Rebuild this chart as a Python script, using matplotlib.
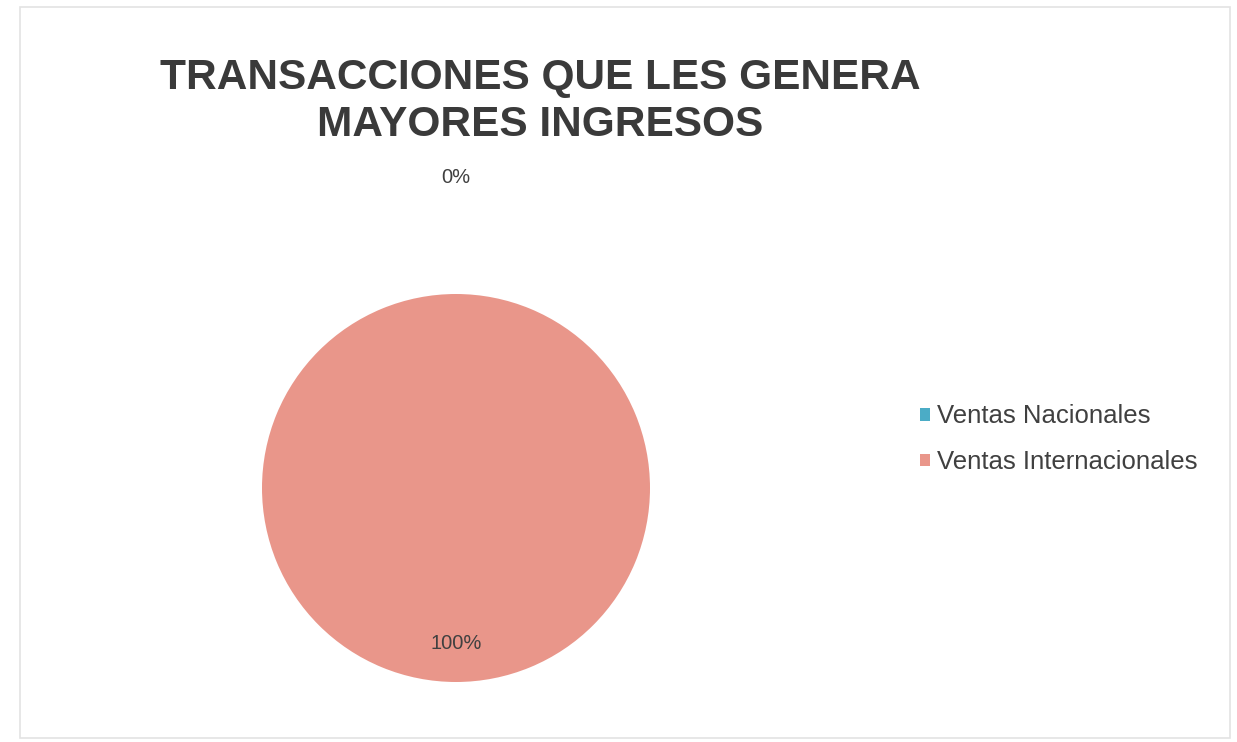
import numpy as np
import matplotlib.pyplot as plt
from matplotlib.patches import Rectangle

# datos de la encuesta
categorias = ["Ventas Nacionales", "Ventas Internacionales"]
porcentajes = [0, 100]
colores = ["#4BACC6", "#E9968A"]

plt.rcParams['font.family'] = ['Liberation Sans', 'DejaVu Sans']

fig = plt.figure(figsize=(12.37, 7.42), dpi=100)
fig.patch.set_facecolor("white")

# marco del grafico
fig.add_artist(Rectangle((0.016, 0.005), 0.978, 0.985, transform=fig.transFigure,
                         fill=False, edgecolor="#e3e3e3", linewidth=1.2))

fig.text(0.437, 0.863, "TRANSACCIONES QUE LES GENERA\nMAYORES INGRESOS",
         ha="center", va="center", fontsize=30.5, fontweight="bold",
         color="#3a3a3a", linespacing=1.22)

# eje cuadrado para la torta
radio_px = 194
cx, cy = 456, 742 - 488
ax = fig.add_axes([(cx - radio_px) / 1237, (cy - radio_px) / 742,
                   2 * radio_px / 1237, 2 * radio_px / 742])
wedges, _ = ax.pie(porcentajes, colors=colores, startangle=90, counterclock=False,
                   radius=1.0, wedgeprops=dict(linewidth=0))
ax.set_xlim(-1, 1)
ax.set_ylim(-1, 1)
ax.set_aspect("equal")
ax.axis("off")

# etiquetas de porcentaje
total = sum(porcentajes)
inicio = 90.0
for valor in porcentajes:
    barrido = 360.0 * valor / total
    medio = np.deg2rad(inicio - barrido / 2)
    dist = 1.6 if valor == 0 else 0.8
    ax.text(dist * np.cos(medio), dist * np.sin(medio), f"{valor / total:.0%}",
            ha="center", va="center", fontsize=14.5, color="#404040", clip_on=False)
    inicio -= barrido

fig.legend(wedges, categorias, loc="center left", bbox_to_anchor=(0.725, 0.408),
           frameon=False, fontsize=18.5, handlelength=0.4, handleheight=0.4,
           handletextpad=0.25, labelspacing=0.85, labelcolor="#404040")

fig.savefig("out.png", dpi=100)
